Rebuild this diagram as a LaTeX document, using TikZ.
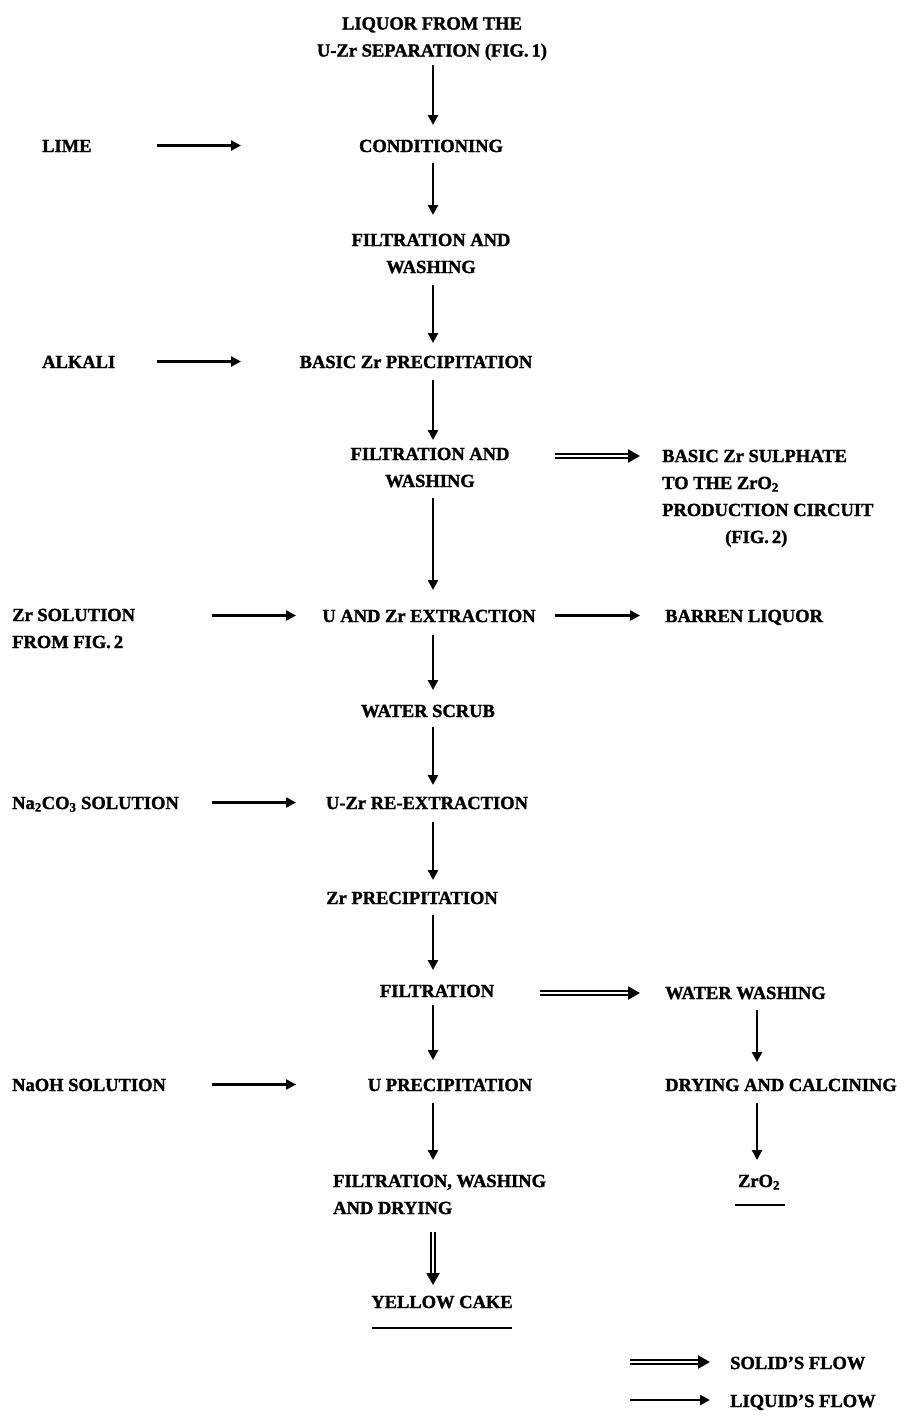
\documentclass[tikz,border=0pt]{standalone}
\usepackage{fontspec}
\setmainfont{Liberation Serif}[BoldFeatures={FakeBold=1.5}]
\usetikzlibrary{arrows.meta,calc}
\begin{document}
\begin{tikzpicture}[x=1pt,y=-1pt,
  txt/.style={inner sep=0pt,font=\fontsize{18.5}{27}\selectfont\bfseries,align=center,anchor=base},
  ltxt/.style={txt,align=left,anchor=base west},
  liq/.style={line width=2.5pt,-{Triangle[length=10pt,width=10pt]}},
  sol/.style={line width=2.4pt,double,double distance=1.1pt,-{Triangle[length=12pt,width=13pt]}},
  uline/.style={line width=2.2pt}]
\fill[white] (0,0) rectangle (909,1427);
\useasboundingbox (0,0) rectangle (909,1427);
% column coordinates
\coordinate (spine) at (433,0);
\coordinate (rspine) at (757,0);
\coordinate (colA) at (157,0);
\coordinate (colB) at (241,0);
\coordinate (colC) at (212,0);
\coordinate (colD) at (296,0);
\coordinate (colE) at (555,0);
\coordinate (colF) at (640,0);
% nodes (multi-line nodes are placed by the baseline of their last line)
\node[txt] (liquor) at (432,56.5) {LIQUOR FROM THE\\U-Zr SEPARATION (FIG.\,1)};
\node[ltxt] (lime) at (42,152) {LIME};
\node[txt] (cond) at (431,152) {CONDITIONING};
\node[txt] (filt1) at (431,273) {FILTRATION AND\\WASHING};
\node[ltxt] (alkali) at (42,368) {ALKALI};
\node[txt] (basic) at (416,368) {BASIC Zr PRECIPITATION};
\node[txt] (filt2) at (430,487) {FILTRATION AND\\WASHING};
\node[ltxt] (sulph) at (662,543) {BASIC Zr SULPHATE\\TO THE ZrO\textsubscript{2}\\PRODUCTION CIRCUIT\\\hspace*{63pt}(FIG.\,2)};
\node[ltxt] (zrsol) at (12,648) {Zr SOLUTION\\FROM FIG.\,2};
\node[txt] (extr) at (429,622) {U AND Zr EXTRACTION};
\node[ltxt] (barren) at (665,622) {BARREN LIQUOR};
\node[txt] (scrub) at (428,717) {WATER SCRUB};
\node[ltxt] (na) at (12,809) {Na\textsubscript{2}CO\textsubscript{3} SOLUTION};
\node[txt] (reext) at (427,809) {U-Zr RE-EXTRACTION};
\node[txt] (zrprec) at (412,904) {Zr PRECIPITATION};
\node[txt] (filt3) at (437,997) {FILTRATION};
\node[ltxt] (wash) at (665,999) {WATER WASHING};
\node[ltxt] (naoh) at (12,1091) {NaOH SOLUTION};
\node[txt] (uprec) at (450,1091) {U PRECIPITATION};
\node[ltxt] (dry) at (665,1091) {DRYING AND CALCINING};
\node[ltxt] (filt4) at (333,1214) {FILTRATION, WASHING\\AND DRYING};
\node[txt] (zro2) at (759,1187) {ZrO\textsubscript{2}};
\node[txt] (yellow) at (442,1308) {YELLOW CAKE};
\node[ltxt] (solidlbl) at (730,1369) {SOLID'S FLOW};
\node[ltxt] (liqlbl) at (730,1407) {LIQUID'S FLOW};
% underlines
\draw[uline] ($(zro2.base)+(-24,18)$) -- ($(zro2.base)+(26,18)$);
\draw[uline] ($(yellow.base)+(-70,20)$) -- ($(yellow.base)+(70,20)$);
% main vertical flow
\draw[liq] ($(liquor.base -| spine)+(0,8.5)$) -- ($(cond.base -| spine)+(0,-27)$);
\draw[liq] ($(cond.base -| spine)+(0,11)$) -- ($(filt1.base -| spine)+(0,-58)$);
\draw[liq] ($(filt1.base -| spine)+(0,12)$) -- ($(basic.base -| spine)+(0,-25)$);
\draw[liq] ($(basic.base -| spine)+(0,12)$) -- ($(filt2.base -| spine)+(0,-47)$);
\draw[liq] ($(filt2.base -| spine)+(0,11)$) -- ($(extr.base -| spine)+(0,-32)$);
\draw[liq] ($(extr.base -| spine)+(0,13)$) -- ($(scrub.base -| spine)+(0,-27)$);
\draw[liq] ($(scrub.base -| spine)+(0,10)$) -- ($(reext.base -| spine)+(0,-24)$);
\draw[liq] ($(reext.base -| spine)+(0,13)$) -- ($(zrprec.base -| spine)+(0,-24)$);
\draw[liq] ($(zrprec.base -| spine)+(0,11)$) -- ($(filt3.base -| spine)+(0,-27)$);
\draw[liq] ($(filt3.base -| spine)+(0,8)$) -- ($(uprec.base -| spine)+(0,-31)$);
\draw[liq] ($(uprec.base -| spine)+(0,12)$) -- ($(filt4.base -| spine)+(0,-54)$);
\draw[sol] ($(filt4.base -| spine)+(0,18)$) -- ($(yellow.base -| spine)+(0,-23)$);
% right column
\draw[liq] ($(wash.base -| rspine)+(0,11)$) -- ($(dry.base -| rspine)+(0,-29)$);
\draw[liq] ($(dry.base -| rspine)+(0,12)$) -- ($(zro2.base -| rspine)+(0,-27)$);
% inputs
\draw[liq] ($(lime.base -| colA)+(0,-6.5)$) -- ($(cond.base -| colB)+(0,-6.5)$);
\draw[liq] ($(alkali.base -| colA)+(0,-6.5)$) -- ($(basic.base -| colB)+(0,-6.5)$);
\draw[liq] ($(zrsol.base -| colC)+(0,-32.5)$) -- ($(extr.base -| colD)+(0,-6.5)$);
\draw[liq] ($(na.base -| colC)+(0,-6.5)$) -- ($(reext.base -| colD)+(0,-6.5)$);
\draw[liq] ($(naoh.base -| colC)+(0,-6.5)$) -- ($(uprec.base -| colD)+(0,-6.5)$);
% outputs
\draw[sol] ($(filt2.base -| colE)+(0,-31)$) -- ($(sulph.base -| colF)+(0,-87)$);
\draw[liq] ($(extr.base -| colE)+(0,-6.5)$) -- ($(barren.base -| colF)+(0,-6.5)$);
\draw[sol] ($(filt3.base)+(103,-4)$) -- ($(wash.base -| colF)+(0,-6)$);
% legend
\coordinate (legS) at (630,1362);
\coordinate (legL) at (630,1400);
\draw[sol] (legS) -- ($(solidlbl.base west)+(-20,-7)$);
\draw[liq] (legL) -- ($(liqlbl.base west)+(-20,-7)$);
\end{tikzpicture}
\end{document}
